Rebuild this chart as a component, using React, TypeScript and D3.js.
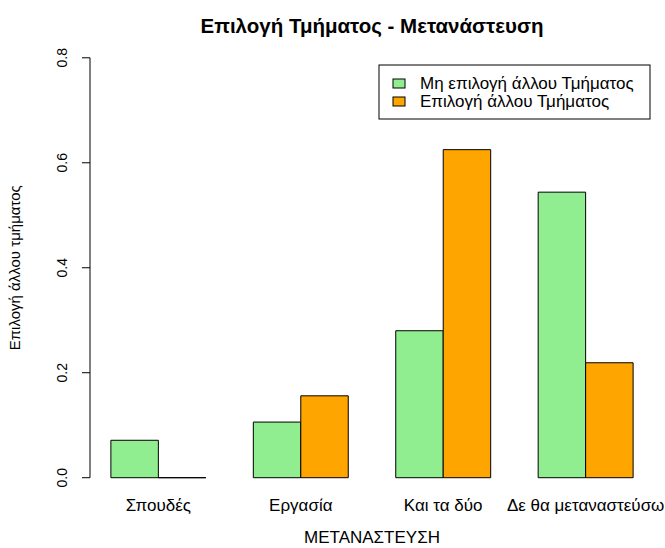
import React from "react";
import * as d3 from "d3";

const categories = ["Σπουδές", "Εργασία", "Και τα δύο", "Δε θα μεταναστεύσω"];
const seriesNames = ["Μη επιλογή άλλου Τμήματος", "Επιλογή άλλου Τμήματος"];
const greenValues = [0.0713, 0.106, 0.280, 0.544];
const orangeValues = [0, 0.156, 0.625, 0.219];
const yTicks = [0, 0.2, 0.4, 0.6, 0.8];
const colors = ["#90EE90", "#FFA500"];

const W = 665;
const H = 548;
const plotL = 90;
const plotR = 654;
const plotT = 41;
const plotB = 494.5;
const font = "'Liberation Sans', Arial, sans-serif";

export default function App() {
  // R barplot beside layout: bars at units 1..12, groups separated by 1 unit
  const x = d3.scaleLinear().domain([1 - 0.44, 12 + 0.44]).range([plotL, plotR]);
  const y = d3.scaleLinear().domain([-0.032, 0.832]).range([plotB, plotT]);
  const series = [greenValues, orangeValues];

  const bars: JSX.Element[] = [];
  categories.forEach((c, i) => {
    const start = 1 + i * 3;
    series.forEach((vals, s) => {
      const x0 = x(start + s);
      const x1 = x(start + s + 1);
      const v = vals[i];
      const p = d3.path();
      p.moveTo(x0, y(0));
      p.lineTo(x0, y(v));
      p.lineTo(x1, y(v));
      p.lineTo(x1, y(0));
      p.closePath();
      bars.push(
        <path key={`b${i}-${s}`} d={p.toString()} fill={colors[s]} stroke="#000" strokeWidth={1} />
      );
    });
  });

  return (
    <svg width={W} height={H} style={{ position: "absolute", left: 0, top: 0, background: "#fff" }}>
      <text x={(plotL + plotR) / 2} y={33} textAnchor="middle" fontFamily={font} fontWeight="bold" fontSize={20.5}>
        Επιλογή Τμήματος - Μετανάστευση
      </text>
      {bars}
      {/* Y axis */}
      <line x1={plotL} x2={plotL} y1={y(0)} y2={y(0.8)} stroke="#000" />
      {yTicks.map((t) => (
        <g key={t}>
          <line x1={plotL - 8} x2={plotL} y1={y(t)} y2={y(t)} stroke="#000" />
          <text
            transform={`translate(${67},${y(t)}) rotate(-90)`}
            textAnchor="middle"
            fontFamily={font}
            fontSize={14}
          >
            {t.toFixed(1)}
          </text>
        </g>
      ))}
      {/* category labels */}
      {categories.map((c, i) => (
        <text
          key={c}
          x={x(2 + i * 3)}
          y={511}
          textAnchor="middle"
          fontFamily={font}
          fontSize={17}
        >
          {c}
        </text>
      ))}
      <text x={(plotL + plotR) / 2} y={543} textAnchor="middle" fontFamily={font} fontSize={17}>
        ΜΕΤΑΝΑΣΤΕΥΣΗ
      </text>
      <text
        transform={`translate(${20},${(y(0) + y(0.8)) / 2}) rotate(-90)`}
        textAnchor="middle"
        fontFamily={font}
        fontSize={15}
      >
        Επιλογή άλλου τμήματος
      </text>
      {/* legend */}
      <rect x={379} y={65} width={271} height={54} fill="#fff" stroke="#000" />
      {seriesNames.map((n, i) => (
        <g key={n}>
          <rect x={393} y={79 + i * 18} width={12} height={9} fill={colors[i]} stroke="#000" />
          <text x={420} y={89 + i * 18} fontFamily={font} fontSize={17}>
            {n}
          </text>
        </g>
      ))}
    </svg>
  );
}
